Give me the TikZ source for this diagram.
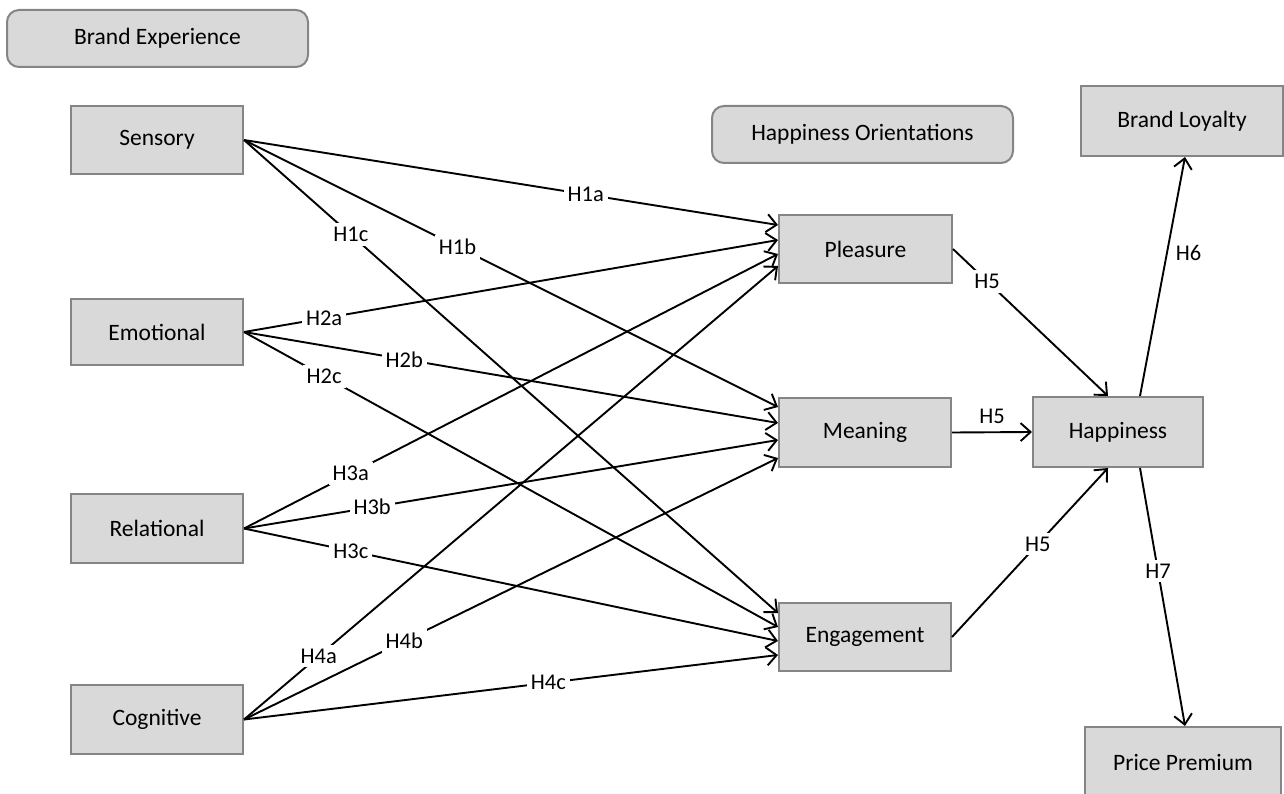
\documentclass[tikz,border=0pt]{standalone}
\usepackage{fontspec}
\setmainfont{Carlito}
\usetikzlibrary{arrows.meta,calc}
\definecolor{boxfill}{HTML}{D9D9D9}
\definecolor{boxline}{HTML}{858585}
\tikzset{
  box/.style={draw=boxline, fill=boxfill, line width=2pt, inner sep=0pt,
    font=\fontsize{23.5}{27}\selectfont, text=black},
  rbox/.style={box, rounded corners=12pt},
  conn/.style={line width=1.9pt, -{Straight Barb[length=10pt,width=18pt]}},
  hlab/.style={fill=white, inner sep=4pt, font=\fontsize{22.5}{26}\selectfont, text=black}
}
\begin{document}
\begin{tikzpicture}[x=1pt,y=-1pt]
\useasboundingbox (0,0) rectangle (1284,794);
% nodes
\node[rbox, minimum width=301pt, minimum height=57pt] (bexp) at (157.5,38.5) {Brand Experience};
\node[box, minimum width=172pt, minimum height=68pt] (sens) at (157,140) {Sensory};
\node[box, minimum width=172pt, minimum height=66pt] (emo) at (157,332) {Emotional};
\node[box, minimum width=172pt, minimum height=69pt] (rel) at (157,528.5) {Relational};
\node[box, minimum width=172pt, minimum height=69pt] (cog) at (157,719.5) {Cognitive};
\node[rbox, minimum width=301pt, minimum height=57pt] (hor) at (862.5,134.5) {Happiness Orientations};
\node[box, minimum width=173pt, minimum height=68pt] (plea) at (865.5,249) {Pleasure};
\node[box, minimum width=172pt, minimum height=69pt] (mean) at (865,432.5) {Meaning};
\node[box, minimum width=172pt, minimum height=68pt] (eng) at (865,637) {Engagement};
\node[box, minimum width=170pt, minimum height=70pt] (happ) at (1118,432) {Happiness};
\node[box, minimum width=202pt, minimum height=70pt] (bloy) at (1182,121) {Brand Loyalty};
\node[box, minimum width=196pt, minimum height=70pt] (ppre) at (1183,762) {Price Premium};
% Sensory
\draw[conn] (sens.east) -- node[hlab, pos=0.64] {H1a} ([yshift=24pt]plea.west);
\draw[conn] (sens.east) -- node[hlab, pos=0.40] {H1b} ([yshift=25.5pt]mean.west);
\draw[conn] (sens.east) -- node[hlab, pos=0.20] {H1c} ([yshift=24pt]eng.west);
% Emotional
\draw[conn] (emo.east) -- node[hlab, pos=0.15] {H2a} ([yshift=9pt]plea.west);
\draw[conn] (emo.east) -- node[hlab, pos=0.30] {H2b} ([yshift=9.5pt]mean.west);
\draw[conn] (emo.east) -- node[hlab, pos=0.15] {H2c} ([yshift=10pt]eng.west);
% Relational
\draw[conn] (rel.east) -- node[hlab, pos=0.20] {H3a} ([yshift=-5pt]plea.west);
\draw[conn] (rel.east) -- node[hlab, pos=0.24] {H3b} ([yshift=-7.5pt]mean.west);
\draw[conn] (rel.east) -- node[hlab, pos=0.20] {H3c} ([yshift=-4pt]eng.west);
% Cognitive
\draw[conn] (cog.east) -- node[hlab, pos=0.14] {H4a} ([yshift=-17pt]plea.west);
\draw[conn] (cog.east) -- node[hlab, pos=0.30] {H4b} ([yshift=-25.5pt]mean.west);
\draw[conn] (cog.east) -- node[hlab, pos=0.57] {H4c} ([yshift=-18pt]eng.west);
% to Happiness
\draw[conn] (plea.east) -- node[hlab, pos=0.22] {H5} ([xshift=-10pt]happ.north);
\draw[conn] (mean.east) -- node[hlab, midway, above=6pt, inner sep=2pt] {H5} (happ.west);
\draw[conn] (eng.east) -- node[hlab, pos=0.55] {H5} ([xshift=-10pt]happ.south);
% outcomes
\draw[conn] ([xshift=22pt]happ.north) -- node[hlab, pos=0.6, right=6pt, inner sep=2pt] {H6} ([xshift=3pt]bloy.south);
\draw[conn] ([xshift=22pt]happ.south) -- node[hlab, pos=0.4] {H7} ([xshift=2pt]ppre.north);
\end{tikzpicture}
\end{document}
